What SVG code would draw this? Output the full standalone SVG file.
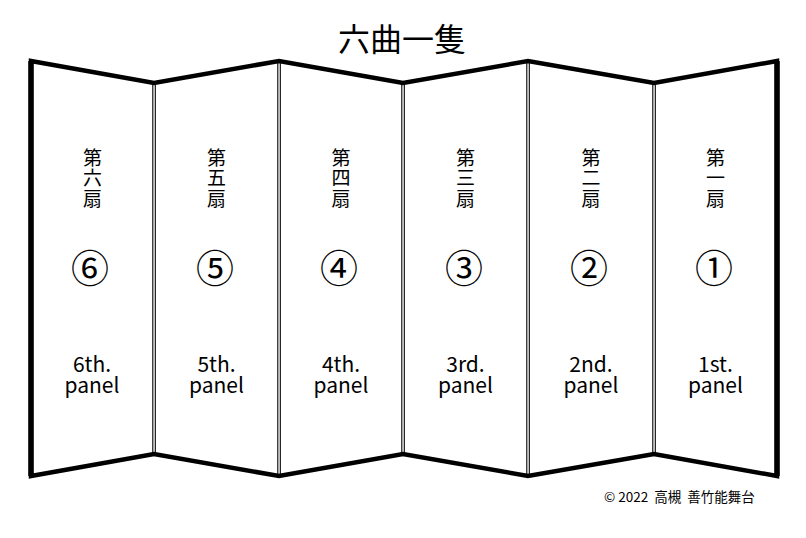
<svg xmlns="http://www.w3.org/2000/svg" width="806" height="538" viewBox="0 0 806 538">
<style>
text{font-family:"Noto Sans CJK JP","Noto Sans",sans-serif;fill:#000;text-anchor:middle}
.title{font-size:32px}
.v{font-size:19px;writing-mode:vertical-rl;letter-spacing:1.5px}
.num{font-size:38px}
.en{font-size:21px}
.copy{font-size:13.5px;text-anchor:start}
.frame{fill:#fff;stroke:#000;stroke-width:4.5;stroke-linejoin:miter}
.div{stroke:#000;stroke-width:1.1;fill:none}
</style>
<rect width="806" height="538" fill="#fff"/>
<text class="title" x="402" y="51">六曲一隻</text>
<g id="frame">
<polygon class="frame" points="31,61 154,83 279,61 403,83 528,61 654,83 777,61 777,476 654,454 528,476 403,454 279,476 154,454 31,476"/>
<line x1="31" y1="61" x2="31" y2="476" stroke="#000" stroke-width="5.5"/>
<line x1="777" y1="61" x2="777" y2="476" stroke="#000" stroke-width="5.5"/>
</g>
<g id="dividers">
<path class="div" d="M152.8,83V454M155.3,83V454M277.8,61V476M280.3,61V476M401.8,83V454M404.3,83V454M526.8,61V476M529.3,61V476M652.8,83V454M655.3,83V454"/>
</g>
<g id="panel6">
<text class="v" x="92.5" y="179">第六扇</text>
<text class="num" x="90" y="282">⑥</text>
<text class="en" x="92" y="372">6th.<tspan x="92" dy="21">panel</tspan></text>
</g>
<g id="panel5">
<text class="v" x="216.5" y="179">第五扇</text>
<text class="num" x="215" y="282">⑤</text>
<text class="en" x="216.5" y="372">5th.<tspan x="216.5" dy="21">panel</tspan></text>
</g>
<g id="panel4">
<text class="v" x="341" y="179">第四扇</text>
<text class="num" x="339" y="282">④</text>
<text class="en" x="341" y="372">4th.<tspan x="341" dy="21">panel</tspan></text>
</g>
<g id="panel3">
<text class="v" x="465.5" y="179">第三扇</text>
<text class="num" x="464" y="282">③</text>
<text class="en" x="465.5" y="372">3rd.<tspan x="465.5" dy="21">panel</tspan></text>
</g>
<g id="panel2">
<text class="v" x="591" y="179">第二扇</text>
<text class="num" x="589" y="282">②</text>
<text class="en" x="591" y="372">2nd.<tspan x="591" dy="21">panel</tspan></text>
</g>
<g id="panel1">
<text class="v" x="715.5" y="179">第一扇</text>
<text class="num" x="714" y="282">①</text>
<text class="en" x="715.5" y="372">1st.<tspan x="715.5" dy="21">panel</tspan></text>
</g>
<text class="copy" x="604" y="502" xml:space="preserve">© 2022  高槻  善竹能舞台</text>
</svg>
